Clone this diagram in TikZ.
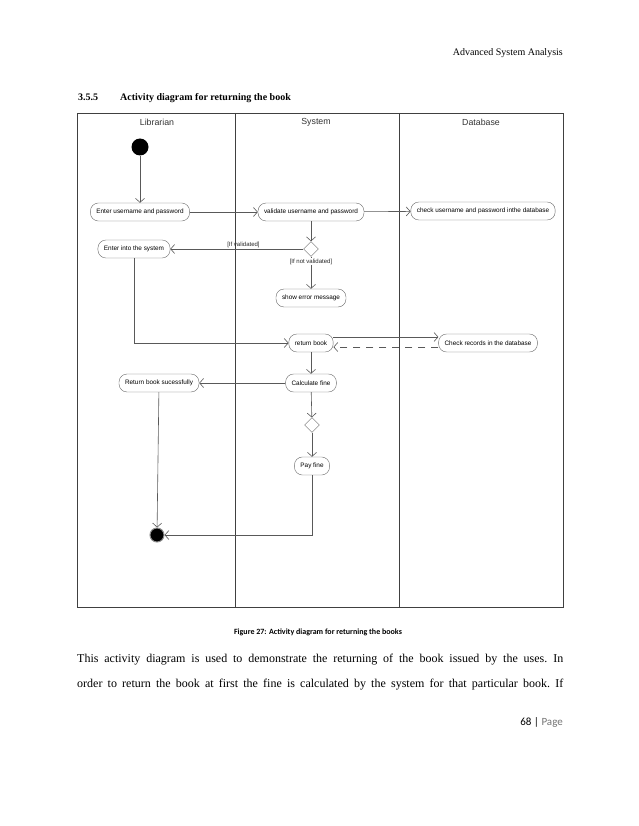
\documentclass[tikz,border=0pt]{standalone}
\usepackage{fontspec}
\setmainfont{Liberation Serif}
\newfontfamily\diagfont{Liberation Sans}
\newfontfamily\calfont{Carlito}
\usetikzlibrary{arrows.meta, positioning, shapes.geometric}

\tikzset{
    activity/.style={draw=black!60, rounded corners=8pt, fill=white, font=\diagfont\fontsize{6.4}{7}\selectfont, minimum height=18pt, inner xsep=6pt},
    decision/.style={draw=black!60, diamond, minimum size=15pt, inner sep=0pt, fill=white},
    flow/.style={-{Straight Barb[length=4pt, width=9pt]}, black!65, line width=0.6pt},
    guard/.style={font=\diagfont\fontsize{6}{7}\selectfont, text=black!85, inner sep=1pt},
    lane/.style={draw=black!75, line width=0.8pt},
    lanetitle/.style={font=\diagfont\fontsize{8.8}{10}\selectfont, text=black!80}
}

\begin{document}
\begin{tikzpicture}[x=1pt, y=-1pt]
            \useasboundingbox (0,0) rectangle (638,826);

            % page text
            \node[anchor=base east, inner sep=0pt] (hdr) at (563,56) {Advanced System Analysis};
            \node[anchor=base west, inner sep=0pt, font=\bfseries] (secnum) at (78,101) {3.5.5};
            \node[anchor=base west, inner sep=0pt, font=\bfseries] (sectitle) at (120,101) {Activity diagram for returning the book};

            % swimlanes
            \draw[lane] (77,113) rectangle (563,607);
            \foreach \x in {235,399} {
                \draw[lane] (\x,113) -- (\x,607);
            }
            \node[lanetitle] (tlib) at (157,122) {Librarian};
            \node[lanetitle] (tsys) at (316,122) {System};
            \node[lanetitle] (tdb) at (481,122) {Database};

            % activities
            \node[circle, fill=black, minimum size=17pt, inner sep=0pt] (start) at (140,147) {};
            \node[activity] (enter) at (140,212) {Enter username and password};
            \node[activity] (validate) at (311,212) {validate username and password};
            \node[activity] (check) at (483,211) {check username and password inthe database};
            \node[decision] (dec1) at (311,249) {};
            \node[activity] (enterSys) at (134,249) {Enter into the system};
            \node[activity] (error) at (311,298) {show error message};
            \node[activity] (ret) at (311,343) {return book};
            \node[activity] (records) at (488,343) {Check records in the database};
            \node[activity] (calc) at (311,383) {Calculate fine};
            \node[activity] (retok) at (159,383) {Return book sucessfully};
            \node[decision] (dec2) at (312,425) {};
            \node[activity] (pay) at (312,466) {Pay fine};
            \node[circle, fill=black, draw=black!45, line width=1pt, minimum size=14pt, inner sep=0pt] (end) at (157,535) {};

            % flows
            \draw[flow] (start) -- (enter);
            \draw[flow] (enter) -- (validate);
            \draw[flow] (validate) -- (check);
            \draw[flow] (validate) -- (dec1);
            \draw[flow] (dec1) -- node[guard, above, pos=0.45] {[If validated]} (enterSys);
            \draw[flow] (dec1) -- (error);
            \node[guard, below=1pt of dec1, fill=white] (notval) {[If not validated]};
            \draw[flow] (enterSys) |- (ret);
            \draw[flow] ([yshift=6pt]ret.east) -- ([yshift=6pt]records.west);
            \draw[flow, dash pattern=on 7pt off 6pt] ([yshift=-4pt]records.west) -- ([yshift=-4pt]ret.east);
            \draw[flow] (ret) -- (calc);
            \draw[flow] (calc) -- (retok);
            \draw[flow] (calc) -- (dec2);
            \draw[flow] (dec2) -- (pay);
            \draw[flow] (retok) -- (end);
            \draw[flow] (pay) |- (end);

            % caption and body text
            \node[anchor=base, inner sep=0pt, font=\calfont\bfseries\fontsize{8}{9}\selectfont] (caption) at (318,634) {Figure 27: Activity diagram for returning the books};
            \node[anchor=base west, inner sep=0pt, text width=486pt, align=justify, font=\fontsize{12}{25}\selectfont] (body) at (77,662)
                {\frenchspacing This activity diagram is used to demonstrate the returning of the book issued by the uses. In\linebreak order to return the book at first the fine is calculated by the system for that particular book. If\parfillskip=0pt\par};
            \node[anchor=base east, inner sep=0pt, font=\calfont\fontsize{11}{13}\selectfont] (pagenum) at (563,725) {68 | \textcolor{black!55}{Page}};
        \end{tikzpicture}
\end{document}
